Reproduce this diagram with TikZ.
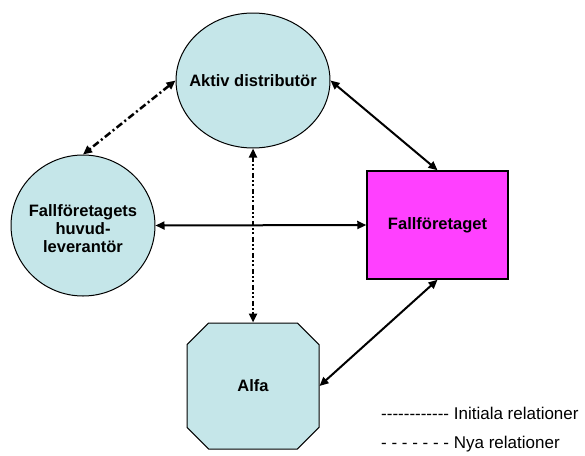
\documentclass[tikz,border=0pt]{standalone}
\usepackage{fontspec}
\setmainfont{Liberation Sans}
\usetikzlibrary{arrows.meta,shapes.geometric,shapes.misc}

\definecolor{paleblue}{RGB}{197,230,233}
\definecolor{boxpink}{RGB}{255,64,255}
\newcommand\dashrow[1]{\foreach \d in {1,...,#1}{\hbox{-}}}

\begin{document}
\begin{tikzpicture}[x=1pt, y=-1pt,
    blob/.style={ellipse, draw, line width=1pt, fill=paleblue, inner sep=0pt},
    octa/.style={chamfered rectangle, chamfered rectangle xsep=37pt, chamfered rectangle ysep=37pt, draw, line width=1pt, fill=paleblue, inner sep=0pt, minimum width=132pt, minimum height=126pt},
    box/.style={rectangle, draw, line width=1.5pt, fill=boxpink, minimum width=141pt, minimum height=108pt},
    tag/.style={font=\bfseries\fontsize{16.5}{18}\selectfont, align=center},
    legend/.style={font=\fontsize{17}{18}\selectfont, inner sep=0pt, anchor=base west},
    line/.style={draw, line width=2pt, {Triangle[length=9pt,width=8pt]}-{Triangle[length=9pt,width=8pt]}},
    oldrel/.style={line, line width=2.5pt, dash pattern=on 7pt off 3pt on 2pt off 3pt},
    newrel/.style={line, line width=2.5pt, dash pattern=on 5pt off 2.5pt on 1.5pt off 2.5pt on 1.5pt off 3pt}
]
    \useasboundingbox (0,0) rectangle (585,455);

    % Actors
    \node[blob, minimum width=154pt, minimum height=135pt, label={[tag]center:Aktiv distributör}] (aktiv) at (253,80.5) {};
    \node[blob, minimum width=144pt, minimum height=141pt, label={[tag, yshift=-3pt]center:Fallföretagets\\huvud-\\leverantör}] (huvud) at (83,225.5) {};
    \node[box, tag] (fall) at (437.5,225) {Fallföretaget};
    \node[octa, tag] (alfa) at (253,386) {Alfa};

    % Relations
    \draw[oldrel] (aktiv.west) -- (huvud.north);
    \draw[newrel] (aktiv.south) -- (alfa.north);
    \draw[line] (aktiv.east) -- (fall.north);
    \draw[line] (huvud.east) -- (fall.west);
    \draw[line] (fall.south) -- (alfa.east);

    % Legend
    \node[legend] (initiala) at (381,419) {\dashrow{12} Initiala relationer};
    \node[legend] (nya) at (381,448) {- - - - - - - Nya relationer};

\end{tikzpicture}
\end{document}
